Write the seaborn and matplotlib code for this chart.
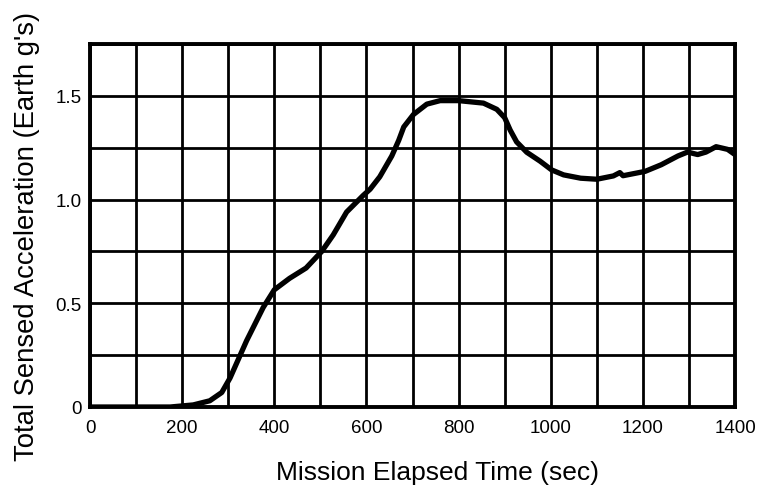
import matplotlib
matplotlib.use("Agg")
import matplotlib.pyplot as plt
import seaborn as sns
import pandas as pd
from matplotlib.ticker import MultipleLocator

time_s = [0, 100, 174, 224, 260, 286, 304, 322, 340, 376, 400, 433, 469, 503,
          528, 557, 593, 608, 629, 655, 670, 681, 702, 731, 760, 800, 854, 883,
          900, 912, 926, 948, 977, 1002, 1028, 1065, 1100, 1136, 1150, 1157,
          1205, 1240, 1276, 1297, 1319, 1337, 1359, 1384, 1400]
accel_g = [0, 0, 0, 0.01, 0.03, 0.07, 0.14, 0.23, 0.32, 0.48, 0.565, 0.62,
           0.67, 0.75, 0.83, 0.94, 1.02, 1.05, 1.11, 1.21, 1.285, 1.35, 1.41,
           1.46, 1.477, 1.477, 1.465, 1.435, 1.395, 1.335, 1.278, 1.228, 1.185,
           1.143, 1.119, 1.103, 1.098, 1.114, 1.13, 1.115, 1.136, 1.168, 1.21,
           1.229, 1.217, 1.229, 1.255, 1.242, 1.217]
x_ticks = [0, 200, 400, 600, 800, 1000, 1200, 1400]
y_ticks = [0, 0.5, 1.0, 1.5]
y_tick_labels = ["0", "0.5", "1.0", "1.5"]

sns.set_style("white")
plt.rcParams['font.family'] = ['Liberation Sans', 'DejaVu Sans']

df = pd.DataFrame({"t": time_s, "a": accel_g})

fig = plt.figure(figsize=(7.58, 4.89), dpi=100)
ax = fig.add_axes([90/758, 1-408/489, (735-90)/758, (408-45)/489])
sns.lineplot(data=df, x="t", y="a", ax=ax, color="black", linewidth=3.8)

ax.set_xlim(0, 1400)
ax.set_ylim(0, 1.75)
ax.set_xticks(x_ticks)
ax.set_xticklabels([str(v) for v in x_ticks])
ax.set_yticks(y_ticks)
ax.set_yticklabels(y_tick_labels)
ax.xaxis.set_minor_locator(MultipleLocator(100))
ax.yaxis.set_minor_locator(MultipleLocator(0.25))
ax.grid(True, which="both", color="black", linewidth=2.0)
ax.set_axisbelow(True)
ax.tick_params(which="both", length=0, labelsize=13.5, colors="black")
ax.tick_params(axis="x", pad=9)
ax.tick_params(axis="y", pad=6)
for s in ax.spines.values():
    s.set_color("black")
    s.set_linewidth(2.8)

ax.set_xlabel("Mission Elapsed Time (sec)", fontsize=19, va="center", color="black")
ax.xaxis.set_label_coords((437 - 90) / 645, (408 - 473) / 363)
ax.set_ylabel("Total Sensed Acceleration (Earth g's)", fontsize=19.8, va="center", color="black")
ax.yaxis.set_label_coords((27.5 - 90) / 645, (408 - 236) / 363)

fig.savefig("out.png", dpi=100)
